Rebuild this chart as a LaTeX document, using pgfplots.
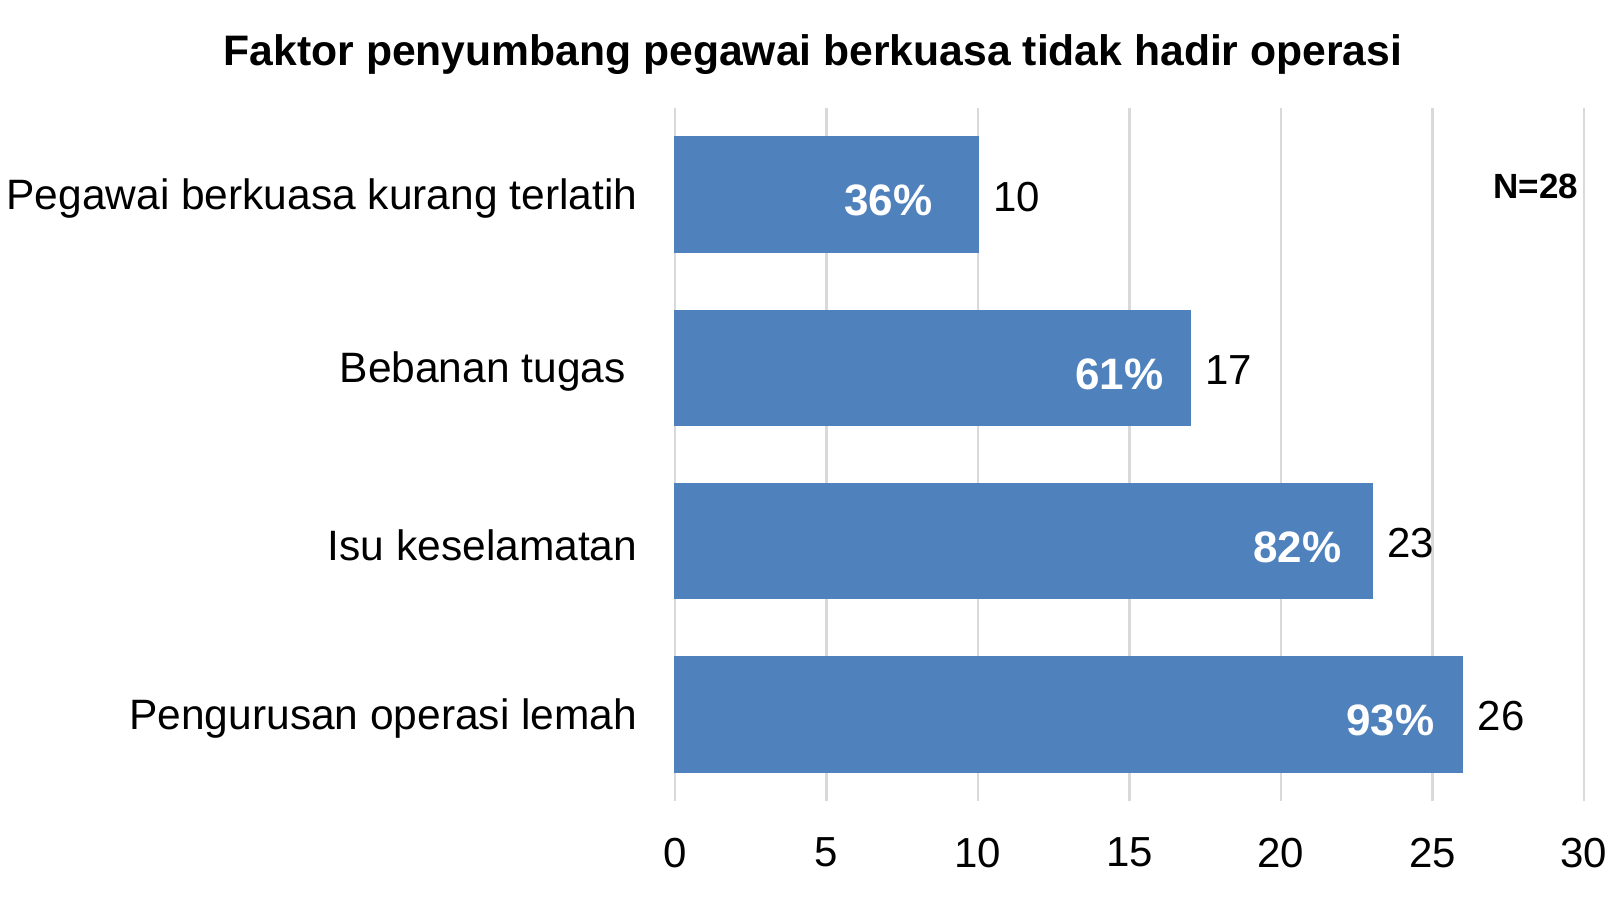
\documentclass[border=0pt]{standalone}
\usepackage{pgfplots}
\pgfplotsset{compat=1.18}
\usepackage{fontspec}
\setmainfont{Liberation Sans}
\definecolor{barblue}{HTML}{4F81BD}
\definecolor{gridgray}{HTML}{D9D9D9}
\begin{document}
\begin{tikzpicture}
\useasboundingbox (0,0) rectangle (484.5pt,270.3pt);
\begin{axis}[
  at={(202.5pt,30pt)}, anchor=south west,
  scale only axis, width=272.7pt, height=207.9pt,
  xbar, bar width=34.5pt,
  xmin=0, xmax=30, ymin=-0.5, ymax=3.5, y dir=reverse,
  xtick={0,5,...,30}, ytick={0,1,2,3},
  yticklabels={Pegawai berkuasa kurang terlatih, {Bebanan tugas\hspace*{3.5pt}}, Isu keselamatan, Pengurusan operasi lemah},
  xmajorgrids, major grid style={gridgray, line width=0.7pt},
  axis line style={draw=none}, tick style={draw=none},
  /pgf/number format/assume math mode=true,
  tick label style={font=\fontsize{12.6}{14}\selectfont},
  xticklabel style={yshift=-7.5pt},
  yticklabel style={xshift=-3.5pt, yshift=-1.2pt, font=\fontsize{12.75}{14}\selectfont},
  nodes near coords={\pgfmathprintnumber\pgfplotspointmeta},
  nodes near coords align={horizontal},
  every node near coord/.append style={font=\fontsize{12.6}{14}\selectfont, black, xshift=1pt, yshift=-0.6pt},
  clip=false,
]
\addplot[fill=barblue, draw=barblue] coordinates {(10,0) (17,1) (23,2) (26,3)};
\node[anchor=east, text=white, font=\bfseries\fontsize{13.2}{15}\selectfont, inner sep=0, yshift=-1.8pt] at (axis cs:8.51,0) {36\%};
\node[anchor=east, text=white, font=\bfseries\fontsize{13.2}{15}\selectfont, inner sep=0, yshift=-1.8pt] at (axis cs:16.14,1) {61\%};
\node[anchor=east, text=white, font=\bfseries\fontsize{13.2}{15}\selectfont, inner sep=0, yshift=-1.8pt] at (axis cs:22.01,2) {82\%};
\node[anchor=east, text=white, font=\bfseries\fontsize{13.2}{15}\selectfont, inner sep=0, yshift=-1.8pt] at (axis cs:25.08,3) {93\%};
\end{axis}
\node[anchor=east, font=\bfseries\fontsize{10.5}{12}\selectfont, inner sep=0] at (473.7pt,214.5pt) {N=28};
\node[font=\bfseries\fontsize{12.8}{15}\selectfont, inner sep=0] at (243.9pt,253.8pt) {Faktor penyumbang pegawai berkuasa tidak hadir operasi};
\end{tikzpicture}
\end{document}
